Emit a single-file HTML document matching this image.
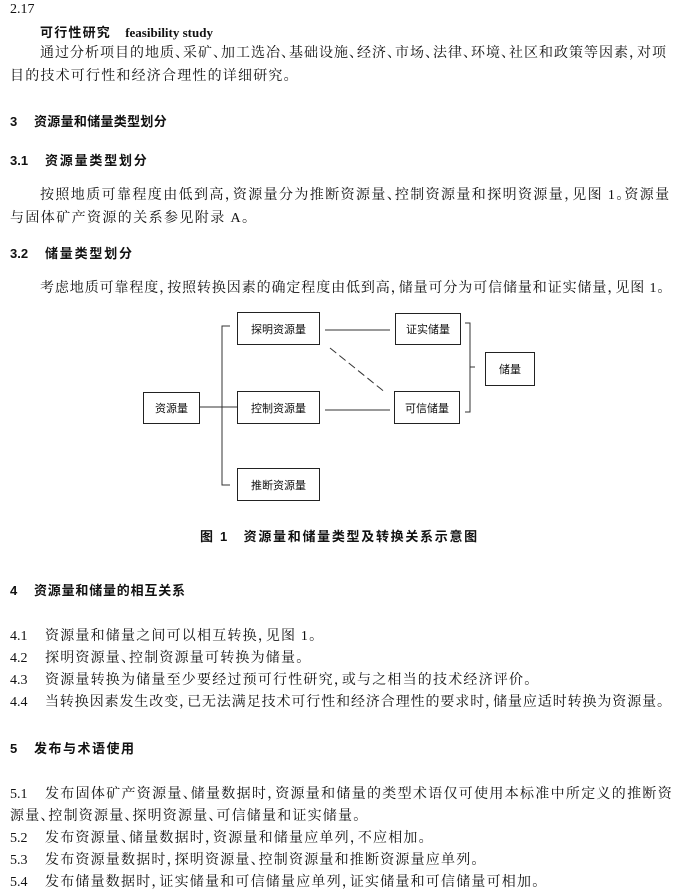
<!DOCTYPE html>
<html><head><meta charset="utf-8"><style>
body{margin:0;width:674px;height:895px;background:#fff;position:relative;font-family:"Liberation Serif","Noto Serif CJK SC",serif;color:#111;overflow:hidden}
.t{position:absolute;font-size:14px;white-space:nowrap;line-height:16px;letter-spacing:1.2px}
.b{font-family:"Liberation Sans","Noto Sans CJK SC",sans-serif;font-weight:bold;font-size:13px;letter-spacing:1.2px}
i{font-style:normal;display:inline-block;width:8px;height:16px;overflow:hidden;vertical-align:top}
.box{position:absolute;border:1.5px solid #222;box-sizing:border-box;display:flex;align-items:center;justify-content:center;font-size:11px;font-family:"Liberation Sans","Noto Sans CJK SC",sans-serif}
</style></head><body>
<div class="t" style="left:10px;top:2px;letter-spacing:0">2.17</div>
<div class="t b" style="left:40px;top:25px">可行性研究　<span style="font-family:'Liberation Serif',serif;letter-spacing:0">feasibility study</span></div>
<div class="t" style="left:40px;top:46px;letter-spacing:1.0px">通过分析项目的地质<i>、</i>采矿<i>、</i>加工选冶<i>、</i>基础设施<i>、</i>经济<i>、</i>市场<i>、</i>法律<i>、</i>环境<i>、</i>社区和政策等因素<i>，</i>对项</div>
<div class="t" style="left:10px;top:69px">目的技术可行性和经济合理性的详细研究<i>。</i></div>
<div class="t b" style="left:10px;top:114px">3</div><div class="t b" style="left:34px;top:114px;letter-spacing:0.3px">资源量和储量类型划分</div>
<div class="t b" style="left:10px;top:153px;letter-spacing:0">3.1</div><div class="t b" style="left:45px;top:153px;letter-spacing:1.8px">资源量类型划分</div>
<div class="t" style="left:40px;top:188px;letter-spacing:1.4px">按照地质可靠程度由低到高<i>，</i>资源量分为推断资源量<i>、</i>控制资源量和探明资源量<i>，</i>见图 1<i>。</i>资源量</div>
<div class="t" style="left:10px;top:211px;letter-spacing:1.4px">与固体矿产资源的关系参见附录 A<i>。</i></div>
<div class="t b" style="left:10px;top:246px;letter-spacing:0">3.2</div><div class="t b" style="left:45px;top:246px;letter-spacing:1.8px">储量类型划分</div>
<div class="t" style="left:40px;top:281px;letter-spacing:0.9px">考虑地质可靠程度<i>，</i>按照转换因素的确定程度由低到高<i>，</i>储量可分为可信储量和证实储量<i>，</i>见图 1<i>。</i></div>

<div class="box" style="left:237px;top:312px;width:83px;height:33px">探明资源量</div>
<div class="box" style="left:395px;top:313px;width:66px;height:32px">证实储量</div>
<div class="box" style="left:485px;top:352px;width:50px;height:34px">储量</div>
<div class="box" style="left:143px;top:392px;width:57px;height:32px">资源量</div>
<div class="box" style="left:237px;top:391px;width:83px;height:33px">控制资源量</div>
<div class="box" style="left:394px;top:391px;width:66px;height:33px">可信储量</div>
<div class="box" style="left:237px;top:468px;width:83px;height:33px">推断资源量</div>
<svg style="position:absolute;left:0;top:0" width="674" height="895">
<g stroke="#333" stroke-width="1" fill="none">
<path d="M230 326H222V485H230"/>
<path d="M200 407H237"/>
<path d="M325 330H390"/>
<path d="M325 410H390"/>
<path d="M330 348L386 393" stroke-dasharray="8,4"/>
<path d="M465 323H470V412H465M470 367H475"/>
</g></svg>
<div class="t b" style="left:200px;top:529px;letter-spacing:1.7px">图 1　资源量和储量类型及转换关系示意图</div>

<div class="t b" style="left:10px;top:583px">4</div><div class="t b" style="left:34px;top:583px;letter-spacing:0.8px">资源量和储量的相互关系</div>
<div class="t" style="left:10px;top:629px;letter-spacing:0">4.1</div><div class="t" style="left:45px;top:629px">资源量和储量之间可以相互转换<i>，</i>见图 1<i>。</i></div>
<div class="t" style="left:10px;top:651px;letter-spacing:0">4.2</div><div class="t" style="left:45px;top:651px">探明资源量<i>、</i>控制资源量可转换为储量<i>。</i></div>
<div class="t" style="left:10px;top:673px;letter-spacing:0">4.3</div><div class="t" style="left:45px;top:673px">资源量转换为储量至少要经过预可行性研究<i>，</i>或与之相当的技术经济评价<i>。</i></div>
<div class="t" style="left:10px;top:695px;letter-spacing:0">4.4</div><div class="t" style="left:45px;top:695px;letter-spacing:0.9px">当转换因素发生改变<i>，</i>已无法满足技术可行性和经济合理性的要求时<i>，</i>储量应适时转换为资源量<i>。</i></div>
<div class="t b" style="left:10px;top:741px">5</div><div class="t b" style="left:34px;top:741px;letter-spacing:1.5px">发布与术语使用</div>
<div class="t" style="left:10px;top:787px;letter-spacing:0">5.1</div><div class="t" style="left:45px;top:787px;letter-spacing:1.3px">发布固体矿产资源量<i>、</i>储量数据时<i>，</i>资源量和储量的类型术语仅可使用本标准中所定义的推断资</div>
<div class="t" style="left:10px;top:809px">源量<i>、</i>控制资源量<i>、</i>探明资源量<i>、</i>可信储量和证实储量<i>。</i></div>
<div class="t" style="left:10px;top:831px;letter-spacing:0">5.2</div><div class="t" style="left:45px;top:831px">发布资源量<i>、</i>储量数据时<i>，</i>资源量和储量应单列<i>，</i>不应相加<i>。</i></div>
<div class="t" style="left:10px;top:853px;letter-spacing:0">5.3</div><div class="t" style="left:45px;top:853px">发布资源量数据时<i>，</i>探明资源量<i>、</i>控制资源量和推断资源量应单列<i>。</i></div>
<div class="t" style="left:10px;top:875px;letter-spacing:0">5.4</div><div class="t" style="left:45px;top:875px">发布储量数据时<i>，</i>证实储量和可信储量应单列<i>，</i>证实储量和可信储量可相加<i>。</i></div>
</body></html>
